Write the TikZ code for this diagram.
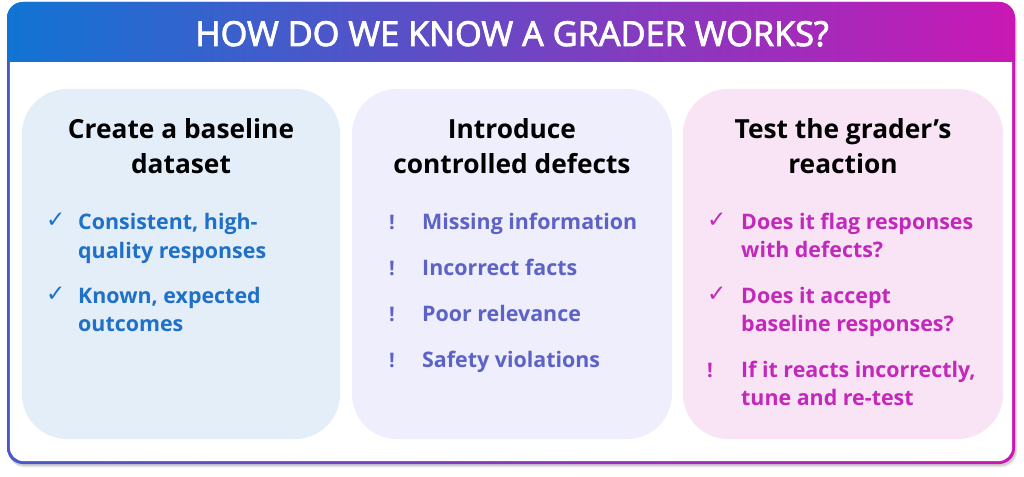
\documentclass[tikz,border=0pt]{standalone}
\usepackage{fontspec}
\setmainfont{Open Sans}
\newfontfamily\symf{DejaVu Sans}
\newfontfamily\semif{Open Sans}[FakeBold=2.5]
\definecolor{hdrL}{HTML}{1174D3}
\definecolor{hdrR}{HTML}{C918B4}
\definecolor{bgA}{HTML}{E4EEF8}
\definecolor{txA}{HTML}{1F70C8}
\definecolor{bgB}{HTML}{EEEEFC}
\definecolor{txB}{HTML}{5C62C6}
\definecolor{bgC}{HTML}{F8E4F5}
\definecolor{txC}{HTML}{C228BA}
\tikzset{
  panelbox/.style={rounded corners=45pt},
  headtxt/.style={anchor=base, inner sep=0pt, text=black, font=\bfseries\fontsize{26.3}{34}\selectfont},
  bodytxt/.style={anchor=base west, inner sep=0pt, font=\bfseries\fontsize{21.4}{28}\selectfont},
  marktxt/.style={anchor=base west, inner sep=0pt, font=\symf\fontsize{23}{26}\selectfont},
  bangtxt/.style={anchor=base west, inner sep=0pt, font=\bfseries\fontsize{20}{28}\selectfont},
  titletxt/.style={anchor=base, inner sep=0pt, text=white, font=\semif\fontsize{34.3}{40}\selectfont},
}
\begin{document}
\begin{tikzpicture}[x=1pt,y=-1pt]
\useasboundingbox (0,0) rectangle (1024,476);
% shadow
\foreach \o/\a in {6/0.05,4.5/0.07,3/0.09}{
  \fill[black,opacity=\a,rounded corners=16pt] (7+\o*0.3,2+\o) rectangle (1015+\o*0.4,464+\o*0.6);
}
% frame
\shade[left color=hdrL!70!hdrR, right color=hdrR, rounded corners=16pt] (7,2) rectangle (1015,464);
\fill[white, rounded corners=14pt] (9.8,4.8) rectangle (1012.2,461.2);
\begin{scope}
  \clip[rounded corners=16pt] (7,2) rectangle (1015,464);
  \shade[left color=hdrL, right color=hdrR] (7,2) rectangle (1015,62);
\end{scope}
\node[titletxt] (title) at (512,46) {HOW DO WE KNOW A GRADER WORKS?};
% panels
\fill[bgA, panelbox] (22,89) rectangle (340,439);
\fill[bgB, panelbox] (352,89) rectangle (672,439);
\fill[bgC, panelbox] (683,89) rectangle (1003,439);
% headings
\node[headtxt] (h1a) at (181,139) {Create a baseline};
\node[headtxt] (h1b) at (181,173) {dataset};
\node[headtxt] (h2a) at (512,139) {Introduce};
\node[headtxt] (h2b) at (512,173) {controlled defects};
\node[headtxt] (h3a) at (843,139) {Test the grader’s};
\node[headtxt] (h3b) at (843,173) {reaction};
% panel 1 items
\node[marktxt, text=txA] (m1a) at (46,227) {✓};
\node[bodytxt, text=txA] (t1a) at (78,229) {Consistent, high-};
\node[bodytxt, text=txA] (t1b) at (78,258) {quality responses};
\node[marktxt, text=txA] (m1b) at (46,301) {✓};
\node[bodytxt, text=txA] (t1c) at (78,303) {Known, expected};
\node[bodytxt, text=txA] (t1d) at (78,331) {outcomes};
% panel 2 items
\node[bangtxt, text=txB] (b2a) at (389,229) {!};
\node[bodytxt, text=txB] (t2a) at (422,229) {Missing information};
\node[bangtxt, text=txB] (b2b) at (389,275) {!};
\node[bodytxt, text=txB] (t2b) at (422,275) {Incorrect facts};
\node[bangtxt, text=txB] (b2c) at (389,321) {!};
\node[bodytxt, text=txB] (t2c) at (422,321) {Poor relevance};
\node[bangtxt, text=txB] (b2d) at (389,367) {!};
\node[bodytxt, text=txB] (t2d) at (422,367) {Safety violations};
% panel 3 items
\node[marktxt, text=txC] (m3a) at (707,227) {✓};
\node[bodytxt, text=txC] (t3a) at (741,229) {Does it flag responses};
\node[bodytxt, text=txC] (t3b) at (741,257) {with defects?};
\node[marktxt, text=txC] (m3b) at (707,301) {✓};
\node[bodytxt, text=txC] (t3c) at (741,303) {Does it accept};
\node[bodytxt, text=txC] (t3d) at (741,331) {baseline responses?};
\node[bangtxt, text=txC] (b3c) at (707,377) {!};
\node[bodytxt, text=txC] (t3e) at (741,377) {If it reacts incorrectly,};
\node[bodytxt, text=txC] (t3f) at (741,405) {tune and re-test};
\end{tikzpicture}
\end{document}
